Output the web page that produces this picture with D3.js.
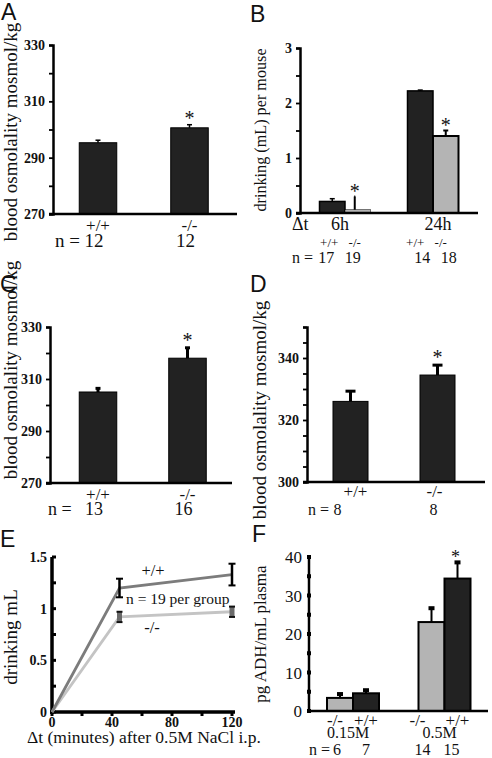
<!DOCTYPE html>
<html><head><meta charset="utf-8">
<script src="https://cdn.jsdelivr.net/npm/d3@7"></script>
<style>
body{margin:0;background:#fff;}
</style></head>
<body><svg id="c" width="492" height="758" font-family="Liberation Serif, Times New Roman, serif"></svg>
<script>
// ---------- DATA ----------
const genotypes = ["+/+", "-/-"];
// Panel A
const osmA = [295.3, 300.6];
const osmAErr = [0.9, 1.1];
const nA = [12, 12];
const ticksOsmAC = [270, 290, 310, 330];
// Panel B
const timesB = ["6h", "24h"];
const drinkWT_B = [0.21, 2.22];
const drinkWT_BErr = [0.05, 0.015];
const drinkKO_B = [0.06, 1.40];
const drinkKO_BErr = [0.24, 0.10];
const nB_WT = [17, 14];
const nB_KO = [19, 18];
const ticksB = [0, 1, 2, 3];
// Panel C
const osmC = [305, 318];
const osmCErr = [1.4, 4.0];
const nC = [13, 16];
// Panel D
const osmD = [326, 334.5];
const osmDErr = [3.3, 3.2];
const nD = [8, 8];
const ticksD = [300, 320, 340];
// Panel E
const minutesE = [0, 45, 120];
const drinkWT_E = [0, 1.20, 1.33];
const drinkWT_EErr = [0, 0.09, 0.105];
const drinkKO_E = [0, 0.92, 0.97];
const drinkKO_EErr = [0, 0.05, 0.05];
const ticksEy = [0, 0.5, 1, 1.5];
const ticksEx = [0, 40, 80, 120];
// Panel F
const dosesF = ["0.15M", "0.5M"];
const adhKO = [3.4, 23.1];
const adhKOErr = [1.0, 3.6];
const adhWT = [4.6, 34.4];
const adhWTErr = [0.8, 4.2];
const nF_KO = [6, 14];
const nF_WT = [7, 15];
const ticksF = [0, 10, 20, 30, 40];

const SERIF = "Liberation Serif, Times New Roman, serif";
const SANS = "Liberation Sans, Arial, sans-serif";
const svg = d3.select("#c");
const DARK = "#222", LIGHT = "#b4b4b4";

function label(g, x, y, txt, size, opts = {}) {
  return g.append("text").attr("x", x).attr("y", y).text(txt)
    .attr("font-family", SERIF).attr("fill", "#111")
    .attr("font-size", size).attr("text-anchor", opts.anchor || "middle")
    .attr("font-weight", opts.bold ? "bold" : "normal");
}
function panel(g, x, y, txt) {
  g.append("text").attr("x", x).attr("y", y).text(txt).attr("font-family", SANS)
    .attr("font-size", 23).attr("fill", "#111");
}
function ylab(g, x, y, txt, size) {
  g.append("text").attr("transform", `translate(${x},${y}) rotate(-90)`)
    .attr("font-family", SERIF).attr("fill", "#111")
    .attr("text-anchor", "middle").attr("font-size", size).text(txt);
}
function yAxis(g, y, x0, major, minor, opts = {}) {
  const ax = d3.axisLeft(y).tickValues(major).tickSize(opts.tick || 4).tickPadding(opts.pad || 4)
    .tickFormat(opts.fmt || d3.format("d"));
  const ga = g.append("g").attr("transform", `translate(${x0},0)`).call(ax);
  ga.select(".domain").attr("stroke", "#000").attr("stroke-width", opts.sw || 2.5);
  ga.selectAll(".tick line").attr("stroke", "#000").attr("stroke-width", 1.8);
  ga.selectAll(".tick text").attr("font-family", SERIF)
    .attr("font-size", opts.fs || 14).attr("font-weight", "bold").attr("fill", "#111");
  if (minor) {
    const m = g.append("g").attr("transform", `translate(${x0},0)`)
      .call(d3.axisLeft(y).tickValues(minor).tickSize(opts.tick || 4).tickFormat(""));
    m.select(".domain").remove();
    m.selectAll(".tick line").attr("stroke", "#000").attr("stroke-width", 1.8);
  }
  return ga;
}
function baseline(g, x0, x1, yv, sw) {
  g.append("line").attr("x1", x0).attr("x2", x1).attr("y1", yv).attr("y2", yv)
    .attr("stroke", "#000").attr("stroke-width", sw || 2.5);
}
function errBar(g, cx, yTop, yEnd, capW, sw, color) {
  g.append("line").attr("x1", cx).attr("x2", cx).attr("y1", yTop).attr("y2", yEnd)
    .attr("stroke", color || "#000").attr("stroke-width", sw);
  g.append("line").attr("x1", cx - capW / 2).attr("x2", cx + capW / 2).attr("y1", yTop).attr("y2", yTop)
    .attr("stroke", color || "#000").attr("stroke-width", sw);
}
function star(g, x, y, size) { label(g, x, y, "*", size || 20); }

// ---------- Panel A ----------
(function () {
  const g = svg.append("g");
  const y = d3.scaleLinear().domain([270, 330]).range([214, 45]);
  const x = d3.scalePoint().domain(genotypes).range([98, 189.5]);
  const bw = 37.5;
  g.selectAll("rect").data(osmA).join("rect")
    .attr("x", (d, i) => x(genotypes[i]) - bw / 2).attr("width", bw)
    .attr("y", d => y(d)).attr("height", d => y(270) - y(d))
    .attr("fill", DARK).attr("stroke", "#000").attr("stroke-width", 1);
  osmA.forEach((d, i) => errBar(g, x(genotypes[i]), y(d + osmAErr[i]), y(d), 5, 1.5));
  yAxis(g, y, 53, ticksOsmAC, [280, 300, 320]);
  baseline(g, 49, 237, y(270));
  star(g, x("-/-"), y(osmA[1] + osmAErr[1]), 20);
  genotypes.forEach(k => label(g, x(k), 231, k, 17));
  label(g, 55, 247, "n =", 19, { anchor: "start" });
  nA.forEach((n, i) => label(g, x(genotypes[i]) - 4, 247, n, 19));
  ylab(g, 17, 132, "blood osmolality mosmol/kg", 19);
  panel(g, 1, 20, "A");
})();

// ---------- Panel B ----------
(function () {
  const g = svg.append("g");
  const y = d3.scaleLinear().domain([0, 3]).range([213, 48]);
  const x = d3.scalePoint().domain(timesB).range([345, 433]);
  const bw = 25.5;
  timesB.forEach((t, i) => {
    g.append("rect").attr("x", x(t) - bw).attr("width", bw).attr("y", y(drinkWT_B[i]))
      .attr("height", y(0) - y(drinkWT_B[i])).attr("fill", DARK).attr("stroke", "#000").attr("stroke-width", 1.5);
    g.append("rect").attr("x", x(t)).attr("width", bw).attr("y", y(drinkKO_B[i]))
      .attr("height", y(0) - y(drinkKO_B[i])).attr("fill", LIGHT).attr("stroke", "#000").attr("stroke-width", i ? 2 : 0.5);
    errBar(g, x(t) - bw / 2, y(drinkWT_B[i] + drinkWT_BErr[i]), y(drinkWT_B[i]), 5, 1.5);
    const ex = x(t) + bw / 2 - (i ? 0 : 3);
    errBar(g, ex, y(drinkKO_B[i] + drinkKO_BErr[i]), y(drinkKO_B[i]), i ? 5 : 1, 2);
    star(g, ex, y(drinkKO_B[i] + drinkKO_BErr[i]) + 1, 20);
  });
  yAxis(g, y, 300, ticksB, [0.5, 1.5, 2.5]);
  baseline(g, 296, 478, y(0));
  label(g, 292, 230, "Δt", 18, { anchor: "start" });
  timesB.forEach((t, i) => {
    label(g, x(t) - 5 + (i ? 10 : 0), 230, t, 18);
    label(g, x(t) - bw / 2 - 3 + (i ? -2 : 0), 247, "+/+", 13);
    label(g, x(t) + bw / 2 - 3 + (i ? -2 : 0), 247, "-/-", 13);
    label(g, x(t) - bw / 2 - 6 + (i ? 8 : 0), 263, nB_WT[i], 16);
    label(g, x(t) + bw / 2 - 5 + (i ? 8 : 0), 263, nB_KO[i], 16);
  });
  label(g, 292, 263, "n =", 16, { anchor: "start" });
  ylab(g, 266, 130, "drinking (mL) per mouse", 16.2);
  panel(g, 250, 22, "B");
})();

// ---------- Panel C ----------
(function () {
  const g = svg.append("g");
  const y = d3.scaleLinear().domain([270, 330]).range([483, 327]);
  const x = d3.scalePoint().domain(genotypes).range([98, 187.5]);
  const bw = 37.5;
  g.selectAll("rect").data(osmC).join("rect")
    .attr("x", (d, i) => x(genotypes[i]) - bw / 2).attr("width", bw)
    .attr("y", d => y(d)).attr("height", d => y(270) - y(d))
    .attr("fill", DARK).attr("stroke", "#000").attr("stroke-width", 1);
  osmC.forEach((d, i) => errBar(g, x(genotypes[i]), y(d + osmCErr[i]), y(d), 5, 3));
  yAxis(g, y, 50, ticksOsmAC, [280, 300, 320]);
  baseline(g, 46, 232, y(270));
  star(g, x("-/-"), y(osmC[1] + osmCErr[1]) - 1, 20);
  genotypes.forEach(k => label(g, x(k), 500, k, 17));
  label(g, 48, 515, "n =", 18, { anchor: "start" });
  nC.forEach((n, i) => label(g, x(genotypes[i]) - 4, 515, n, 18));
  ylab(g, 17, 370, "blood osmolality mosmol/kg", 19);
  panel(g, 0, 292, "C");
})();

// ---------- Panel D ----------
(function () {
  const g = svg.append("g");
  const y = d3.scaleLinear().domain([300, 350]).range([482, 327]);
  const x = d3.scalePoint().domain(genotypes).range([350.5, 437.5]);
  const bw = 35;
  g.selectAll("rect").data(osmD).join("rect")
    .attr("x", (d, i) => x(genotypes[i]) - bw / 2).attr("width", bw)
    .attr("y", d => y(d)).attr("height", d => y(300) - y(d))
    .attr("fill", DARK).attr("stroke", "#000").attr("stroke-width", 1);
  osmD.forEach((d, i) => errBar(g, x(genotypes[i]), y(d + osmDErr[i]), y(d), 10, 3));
  yAxis(g, y, 307, ticksD, [305, 310, 315, 325, 330, 335, 345, 350]);
  baseline(g, 303, 485, y(300));
  star(g, x("-/-"), y(osmD[1] + osmDErr[1]) - 1, 20);
  genotypes.forEach(k => label(g, x(k) + (k === "+/+" ? 5 : -3), 497, k, 17));
  label(g, 308, 515, "n =", 16, { anchor: "start" });
  nD.forEach((n, i) => label(g, x(genotypes[i]) - 13 + (i ? 9 : 0), 515, n, 16));
  ylab(g, 266, 410, "blood osmolality mosmol/kg", 19);
  panel(g, 250, 292, "D");
})();

// ---------- Panel E ----------
(function () {
  const g = svg.append("g");
  const y = d3.scaleLinear().domain([0, 1.5]).range([712, 557]);
  const x = d3.scaleLinear().domain([0, 120]).range([52, 232]);
  g.append("line").attr("x1", x(0)).attr("x2", x(0)).attr("y1", y(1.5)).attr("y2", y(0) + 2)
    .attr("stroke", "#000").attr("stroke-width", 3.5);
  g.append("line").attr("x1", x(0) - 2).attr("x2", x(120) + 3).attr("y1", y(0)).attr("y2", y(0))
    .attr("stroke", "#000").attr("stroke-width", 3.5);
  d3.range(0, 1.51, 0.25).forEach(v => g.append("rect").attr("x", x(0)).attr("y", y(v) - 1.5)
    .attr("width", 4).attr("height", 3).attr("fill", "#000"));
  d3.range(0, 121, 20).forEach(v => g.append("rect").attr("x", x(v) - 1.5).attr("y", y(0))
    .attr("width", 3).attr("height", 4).attr("fill", "#000"));
  ticksEy.forEach(v => label(g, x(0) - 5, y(v) + 5, d3.format("")(v), 14, { anchor: "end", bold: true }));
  ticksEx.forEach(v => label(g, x(v), 727, v, 14, { bold: true }));
  const line = d3.line().x((d, i) => x(minutesE[i])).y(d => y(d));
  g.append("path").attr("d", line(drinkKO_E)).attr("fill", "none").attr("stroke", "#c4c4c4").attr("stroke-width", 2.8);
  g.append("path").attr("d", line(drinkWT_E)).attr("fill", "none").attr("stroke", "#7c7c7c").attr("stroke-width", 2.8);
  minutesE.forEach((m, i) => {
    if (i === 0) return;
    const cx = x(m);
    g.append("rect").attr("x", cx - 2.5).attr("width", 5)
      .attr("y", y(drinkKO_E[i] + drinkKO_EErr[i])).attr("height", y(drinkKO_E[i] - drinkKO_EErr[i]) - y(drinkKO_E[i] + drinkKO_EErr[i]))
      .attr("fill", "#6a6a6a");
    [1, -1].forEach(s => g.append("line").attr("x1", cx - 3).attr("x2", cx + 3)
      .attr("y1", y(drinkKO_E[i] + s * drinkKO_EErr[i])).attr("y2", y(drinkKO_E[i] + s * drinkKO_EErr[i]))
      .attr("stroke", "#111").attr("stroke-width", 2));
    g.append("line").attr("x1", cx).attr("x2", cx)
      .attr("y1", y(drinkWT_E[i] + drinkWT_EErr[i])).attr("y2", y(drinkWT_E[i] - drinkWT_EErr[i]))
      .attr("stroke", "#000").attr("stroke-width", 2.5);
    [1, -1].forEach(s => g.append("line").attr("x1", cx - 3.5).attr("x2", cx + 3.5)
      .attr("y1", y(drinkWT_E[i] + s * drinkWT_EErr[i])).attr("y2", y(drinkWT_E[i] + s * drinkWT_EErr[i]))
      .attr("stroke", "#000").attr("stroke-width", 2));
  });
  label(g, 153, 576, "+/+", 16.5);
  label(g, 126, 604, "n = 19 per group", 15.5, { anchor: "start" });
  label(g, 152, 633, "-/-", 16.5);
  label(g, 27, 743, "Δt (minutes) after 0.5M NaCl i.p.", 17.5, { anchor: "start" });
  ylab(g, 17, 637, "drinking mL", 19);
  panel(g, 0, 547, "E");
})();

// ---------- Panel F ----------
(function () {
  const g = svg.append("g");
  const y = d3.scaleLinear().domain([0, 40]).range([711, 557]);
  const x = d3.scalePoint().domain(dosesF).range([353, 444.5]);
  const bw = 26;
  dosesF.forEach((d, i) => {
    g.append("rect").attr("x", x(d) - bw).attr("width", bw).attr("y", y(adhKO[i]))
      .attr("height", y(0) - y(adhKO[i])).attr("fill", LIGHT).attr("stroke", "#000").attr("stroke-width", 2);
    g.append("rect").attr("x", x(d)).attr("width", bw).attr("y", y(adhWT[i]))
      .attr("height", y(0) - y(adhWT[i])).attr("fill", DARK).attr("stroke", "#000").attr("stroke-width", 2);
    [[x(d) - bw / 2, adhKO[i], adhKOErr[i]], [x(d) + bw / 2, adhWT[i], adhWTErr[i]]].forEach(([cx, v, e]) => {
      g.append("line").attr("x1", cx).attr("x2", cx).attr("y1", y(v + e)).attr("y2", y(v))
        .attr("stroke", "#000").attr("stroke-width", 2);
      g.append("rect").attr("x", cx - 3).attr("y", y(v + e) - 2).attr("width", 6).attr("height", 4).attr("fill", "#000");
    });
  });
  star(g, x("0.5M") + bw / 2 - 2, y(adhWT[1] + adhWTErr[1]) + 1, 18);
  g.append("line").attr("x1", 309).attr("x2", 309).attr("y1", y(40)).attr("y2", y(0))
    .attr("stroke", "#000").attr("stroke-width", 2.5);
  baseline(g, 307, 488, y(0), 2.5);
  d3.range(0, 41, 5).forEach(v => g.append("rect").attr("x", 307).attr("y", y(v) - 2)
    .attr("width", 4).attr("height", 4).attr("fill", "#000"));
  ticksF.forEach(v => label(g, 302, y(v) + 6, v, 17, { anchor: "end" }));
  dosesF.forEach((d, i) => {
    label(g, x(d) - bw / 2 - 5 - (i ? 9 : 0), 726, "-/-", 17);
    label(g, x(d) + bw / 2, 726, "+/+", 17);
    label(g, x(d) - 5, 738, d, 16);
    label(g, x(d) - bw / 2 - 3 - (i ? 6 : 0), 755, nF_KO[i], 16);
    label(g, x(d) + bw / 2 - (i ? 6 : 0), 755, nF_WT[i], 16);
  });
  label(g, 309, 755, "n =", 16, { anchor: "start" });
  ylab(g, 266, 634, "pg ADH/mL plasma", 17);
  panel(g, 252, 542, "F");
})();
</script></body></html>
